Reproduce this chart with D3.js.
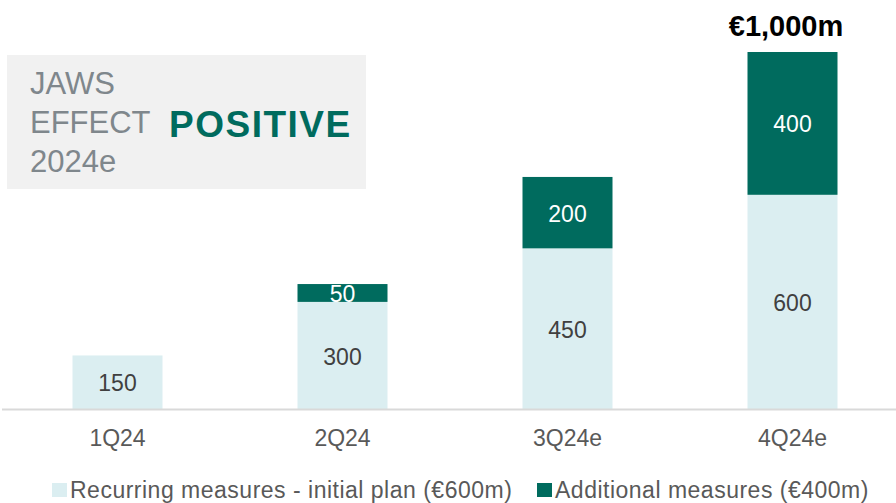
<!DOCTYPE html>
<html>
<head>
<meta charset="utf-8">
<script src="https://cdn.jsdelivr.net/npm/d3@7"></script>
<style>
  body { margin: 0; background: #fff; }
  text { font-family: "Liberation Sans", Arial, sans-serif; }
</style>
</head>
<body>
<div id="chart"></div>
<script>
var width = 896;
var height = 503;

var quarters = ["1Q24", "2Q24", "3Q24e", "4Q24e"];
var recurring = [150, 300, 450, 600];
var additional = [0, 50, 200, 400];
var seriesNames = ["Recurring measures - initial plan (€600m)", "Additional measures (€400m)"];
var totalLabel = "€1,000m";

var colors = ["#dbeef1", "#006b5e"];

var svg = d3.select("#chart")
    .append("svg")
    .attr("width", width)
    .attr("height", height);

var x = d3.scaleBand()
    .domain(quarters)
    .range([5, 905])
    .paddingInner(0.6)
    .paddingOuter(0.3);

var y = d3.scaleLinear()
    .domain([0, 1000])
    .range([409, 52]);

var rows = quarters.map(function(q, i){
    return {q: q, recurring: recurring[i], additional: additional[i]};
});
var stack = d3.stack().keys(["recurring", "additional"]);
var layers = stack(rows);

// box
svg.append("rect")
    .attr("x", 7).attr("y", 55)
    .attr("width", 359).attr("height", 134)
    .attr("fill", "#f1f1f1");

var title = svg.append("g").attr("fill", "#7f878c").style("font-size", "31px");
title.append("text").attr("x", 30).attr("y", 94).text("JAWS");
title.append("text").attr("x", 30).attr("y", 133).text("EFFECT");
title.append("text").attr("x", 30).attr("y", 172).text("2024e");
svg.append("text")
    .attr("x", 169).attr("y", 137)
    .attr("fill", "#006b5e")
    .style("font-size", "37px")
    .style("font-weight", "bold")
    .style("letter-spacing", "1.5px")
    .text("POSITIVE");

// bars
layers.forEach(function(layer, k){
    var g = svg.append("g");
    g.selectAll("rect")
        .data(layer.filter(function(d){ return d[1] > d[0]; }))
        .enter().append("rect")
        .attr("x", function(d){ return x(d.data.q); })
        .attr("y", function(d){ return y(d[1]); })
        .attr("width", x.bandwidth())
        .attr("height", function(d){ return y(d[0]) - y(d[1]); })
        .attr("fill", colors[k]);
    g.selectAll("text")
        .data(layer.filter(function(d){ return d[1] > d[0]; }))
        .enter().append("text")
        .attr("x", function(d){ return x(d.data.q) + x.bandwidth()/2; })
        .attr("y", function(d){ return (y(d[0]) + y(d[1]))/2 + 1; })
        .attr("dy", "0.35em")
        .attr("text-anchor", "middle")
        .attr("fill", k == 0 ? "#404040" : "#ffffff")
        .style("font-size", "23px")
        .text(function(d){ return d[1] - d[0]; });
});

// total
svg.append("text")
    .attr("x", 786)
    .attr("y", 36)
    .attr("text-anchor", "middle")
    .style("font-size", "29px")
    .style("font-weight", "bold")
    .attr("fill", "#000")
    .text(totalLabel);

// baseline
svg.append("line")
    .attr("x1", 2).attr("x2", 896)
    .attr("y1", 409.5).attr("y2", 409.5)
    .attr("stroke", "#d9d9d9")
    .attr("stroke-width", 2);

var xAxis = svg.append("g")
    .attr("transform", "translate(0,409)")
    .call(d3.axisBottom(x).tickSize(0).tickPadding(21));
xAxis.select(".domain").remove();
xAxis.selectAll("text")
    .attr("fill", "#595959")
    .style("font-size", "23px")
    .style("font-family", "'Liberation Sans', Arial, sans-serif");

// legend
var legendX = [52, 537];
var legend = svg.selectAll(".legend")
    .data(seriesNames)
    .enter().append("g")
    .attr("class", "legend")
    .attr("transform", function(d, i){ return "translate(" + legendX[i] + ",483)"; });
legend.append("rect")
    .attr("width", 15).attr("height", 14)
    .attr("fill", function(d, i){ return colors[i]; });
legend.append("text")
    .attr("x", 18).attr("y", 15)
    .attr("fill", "#595959")
    .style("font-size", "23px")
    .style("letter-spacing", "0.5px")
    .text(function(d){ return d; });
</script>
</body>
</html>
